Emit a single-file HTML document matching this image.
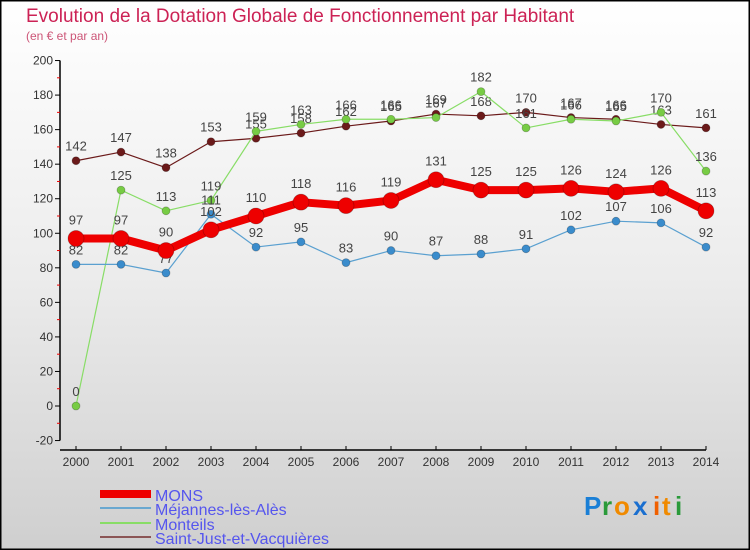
<!DOCTYPE html>
<html><head><meta charset="utf-8"><style>
body{margin:0;}
#wrap{position:relative;width:750px;height:550px;overflow:hidden;}
svg text{font-family:"Liberation Sans",sans-serif;}
</style></head><body>
<div id="wrap">
<svg id="chart" width="750" height="550" viewBox="0 0 750 550" xmlns="http://www.w3.org/2000/svg">
<defs>
<linearGradient id="bg" x1="0" y1="0" x2="0" y2="1">
<stop offset="0" stop-color="#ffffff"/><stop offset="0.5" stop-color="#ececec"/><stop offset="1" stop-color="#cfcfcf"/>
</linearGradient>
</defs>
<rect x="0" y="0" width="750" height="550" fill="url(#bg)"/>
<rect x="0.5" y="0.5" width="749" height="549" fill="none" stroke="#000" stroke-width="2"/>
<text x="26" y="22" font-size="19" fill="#cc2255">Evolution de la Dotation Globale de Fonctionnement par Habitant</text>
<text x="26" y="40" font-size="12" fill="#cc5577">(en € et par an)</text>
<g id="axes"></g>
<g id="series"></g>
<g id="legend"></g>
<g font-size="26" font-weight="bold">
<text x="584" y="515" fill="#1a7fd6">P</text><text x="602" y="515" fill="#2a9a3a">r</text><text x="614" y="515" fill="#f08a00">o</text><text x="633" y="515" fill="#1a6fd0">x</text><text x="653" y="515" fill="#f06000">i</text><text x="662" y="515" fill="#f08a00">t</text><text x="675" y="515" fill="#2a9a3a">i</text>
</g>
</svg>
</div>
<script>
const years=[2000,2001,2002,2003,2004,2005,2006,2007,2008,2009,2010,2011,2012,2013,2014];
const yTicks=[-20,0,20,40,60,80,100,120,140,160,180,200];
const mons=[97,97,90,102,110,118,116,119,131,125,125,126,124,126,113];
const mejannes=[82,82,77,111,92,95,83,90,87,88,91,102,107,106,92];
const monteils=[0,125,113,119,159,163,166,166,167,182,161,166,165,170,136];
const saintJust=[142,147,138,153,155,158,162,165,169,168,170,167,166,163,161];
const seriesNames=["MONS","Méjannes-lès-Alès","Monteils","Saint-Just-et-Vacquières"];

const NS="http://www.w3.org/2000/svg";
const xS=i=>76+i*45;
const yS=v=>406-v*1.7273;
function mk(tag,attrs,parent){const e=document.createElementNS(NS,tag);for(const k in attrs)e.setAttribute(k,attrs[k]);parent.appendChild(e);return e;}
const axes=document.getElementById('axes');
const ser=document.getElementById('series');
const leg=document.getElementById('legend');

let yl=mk('line',{x1:60,y1:yS(200),x2:60,y2:yS(-20),stroke:'#000','stroke-width':1.5},axes);


yTicks.forEach(t=>{
  let l=mk('line',{x1:55,y1:yS(t),x2:60,y2:yS(t),stroke:'#000'},axes);
  
  
  if(t<200){let m=mk('line',{x1:57,y1:yS(t+10),x2:60,y2:yS(t+10),stroke:'#e00'},axes);
  
  }
  let tx=mk('text',{x:53,y:yS(t)+4,'text-anchor':'end','font-size':12,fill:'#333'},axes);
  tx.textContent=t;
  
  
});
let xl=mk('line',{x1:60,y1:450,x2:xS(14),y2:450,stroke:'#000','stroke-width':1.5},axes);


years.forEach((y,i)=>{
  let l=mk('line',{x1:xS(i),y1:446,x2:xS(i),y2:450,stroke:'#000'},axes);
  
  
  let tx=mk('text',{x:xS(i),y:466,'text-anchor':'middle','font-size':12,fill:'#333'},axes);
  tx.textContent=y;
  
  
});

const specs=[
 {d:saintJust,c:'#6b1a1a',f:'#6b1a1a',w:1.2,r:4,key:'saint-just'},
 {d:monteils,c:'#88dd66',f:'#77cc44',w:1.2,r:4,key:'monteils'},
 {d:mejannes,c:'#5aa0d0',f:'#3a8ccc',w:1.2,r:4,key:'mejannes'},
 {d:mons,c:'#ee0000',f:'#ee0000',w:8,r:8,key:'mons'}
];
specs.forEach(s=>{
  let p=mk('polyline',{points:s.d.map((v,i)=>xS(i)+','+yS(v)).join(' '),fill:'none',stroke:s.c,'stroke-width':s.w,'stroke-linejoin':'round'},ser);
  
  
  s.d.forEach((v,i)=>{
    let c=mk('circle',{cx:xS(i),cy:yS(v),r:s.r,fill:s.f,stroke:'rgba(0,0,0,0.25)','stroke-width':0.8},ser);
    
    
    let t=mk('text',{x:xS(i),y:yS(v)-(s.r+6),'text-anchor':'middle','font-size':13,fill:'#444'},ser);
    t.textContent=v;
    
    
  });
});

const legSpecs=[['#ee0000',8,494],['#6aa8d0',2,508],['#88dd66',2,523],['#8b5555',2,537]];
seriesNames.forEach((n,i)=>{
  const [c,w,y]=legSpecs[i];
  let l=mk('line',{x1:100,y1:y,x2:151,y2:y,stroke:c,'stroke-width':w},leg);
  
  
  let t=mk('text',{x:155,y:y+7,'font-size':16,fill:'#5555ee'},leg);
  t.textContent=n;
  
  
});
</script>
</body></html>
